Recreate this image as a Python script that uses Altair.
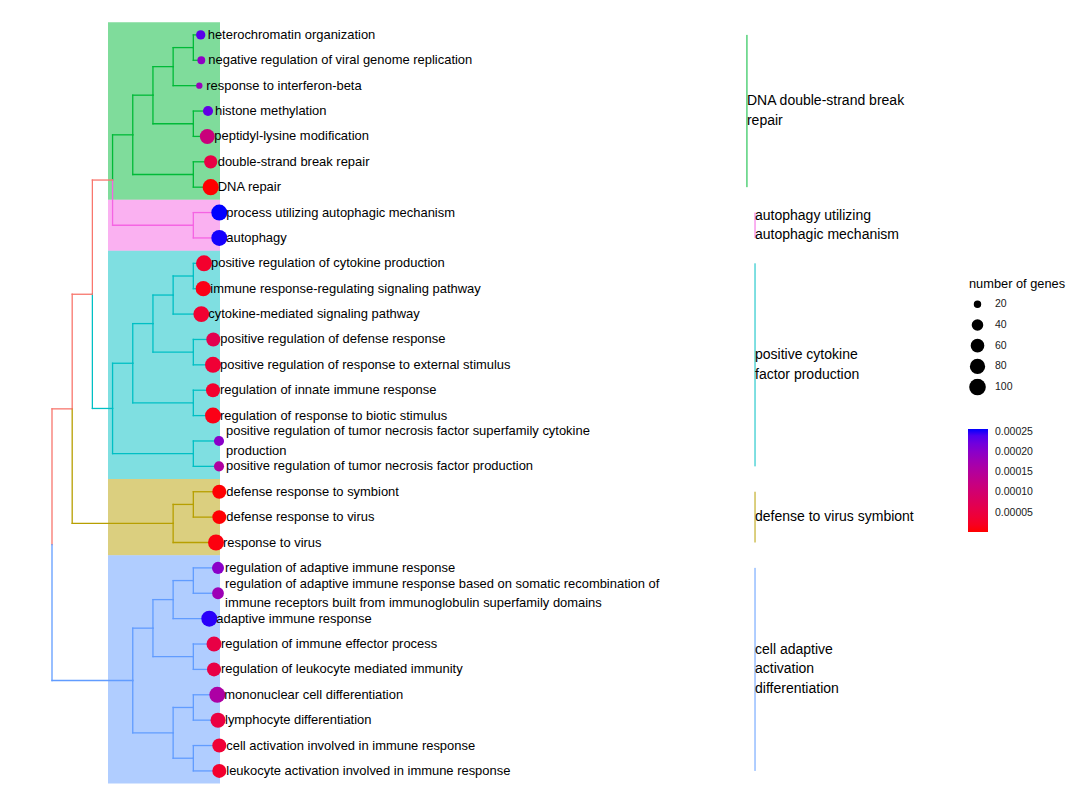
import altair as alt
import pandas as pd
import numpy as np

# ---------------- data ----------------
terms = [
    "heterochromatin organization",
    "negative regulation of viral genome replication",
    "response to interferon-beta",
    "histone methylation",
    "peptidyl-lysine modification",
    "double-strand break repair",
    "DNA repair",
    "process utilizing autophagic mechanism",
    "autophagy",
    "positive regulation of cytokine production",
    "immune response-regulating signaling pathway",
    "cytokine-mediated signaling pathway",
    "positive regulation of defense response",
    "positive regulation of response to external stimulus",
    "regulation of innate immune response",
    "regulation of response to biotic stimulus",
    "positive regulation of tumor necrosis factor superfamily cytokine\nproduction",
    "positive regulation of tumor necrosis factor production",
    "defense response to symbiont",
    "defense response to virus",
    "response to virus",
    "regulation of adaptive immune response",
    "regulation of adaptive immune response based on somatic recombination of\nimmune receptors built from immunoglobulin superfamily domains",
    "adaptive immune response",
    "regulation of immune effector process",
    "regulation of leukocyte mediated immunity",
    "mononuclear cell differentiation",
    "lymphocyte differentiation",
    "cell activation involved in immune response",
    "leukocyte activation involved in immune response",
]
gene_counts = [26, 21, 19, 30, 76, 56, 92, 90, 90, 90, 80, 88, 64, 90, 64,
               90, 30, 30, 64, 63, 90, 44, 42, 90, 76, 64, 90, 76, 64, 64]
p_adjust = [2.35e-4, 1.95e-4, 1.85e-4, 2.30e-4, 1.15e-4, 5.5e-5, 1.9e-6,
            2.567e-4, 2.55e-4, 3.0e-5, 1.2e-5, 3.5e-5, 6.5e-5, 3.8e-5, 3.0e-5,
            1.2e-5, 2.0e-4, 1.55e-4, 3.0e-6, 3.0e-6, 8.0e-6, 2.0e-4, 1.8e-4,
            2.52e-4, 5.5e-5, 5.5e-5, 1.6e-4, 5.0e-5, 3.8e-5, 3.0e-5]
# tip depth (tree units) of each leaf
tip_depth = [7.365, 7.395, 7.296, 7.727, 7.692, 7.860, 7.860, 8.286, 8.286,
             7.528, 7.494, 7.395, 7.989, 7.974, 7.974, 7.974, 8.271, 8.271,
             8.286, 8.286, 8.123, 8.222, 8.222, 7.791, 8.024, 8.024, 8.187,
             8.222, 8.286, 8.286]

# internal nodes: (name, children, depth) -- bottom-up
tree_nodes = [
    ("g1", ["L1", "L2"], 7), ("g2", ["g1", "L3"], 6), ("g3", ["L4", "L5"], 7),
    ("g4", ["g2", "g3"], 5), ("g5", ["L6", "L7"], 7), ("g6", ["g4", "g5"], 4),
    ("p1", ["L8", "L9"], 7), ("gp", ["g6", "p1"], 3),
    ("c1", ["L10", "L11"], 7), ("c2", ["c1", "L12"], 6), ("c3", ["L13", "L14"], 7),
    ("c4", ["c2", "c3"], 5), ("c5", ["L15", "L16"], 7), ("c6", ["c4", "c5"], 4),
    ("c7", ["L17", "L18"], 7), ("c8", ["c6", "c7"], 3),
    ("A", ["gp", "c8"], 2),
    ("o1", ["L19", "L20"], 7), ("o2", ["o1", "L21"], 6),
    ("B", ["A", "o2"], 1),
    ("b1", ["L22", "L23"], 7), ("b2", ["b1", "L24"], 6), ("b3", ["L25", "L26"], 7),
    ("b4", ["b2", "b3"], 5), ("b5", ["L27", "L28"], 7), ("b6", ["L29", "L30"], 7),
    ("b7", ["b5", "b6"], 6), ("b8", ["b4", "b7"], 4),
    ("root", ["B", "b8"], 0),
]

cluster_labels = ["DNA double-strand break\nrepair",
                  "autophagy utilizing\nautophagic mechanism",
                  "positive cytokine\nfactor production",
                  "defense to virus symbiont",
                  "cell adaptive\nactivation\ndifferentiation"]
cluster_first = [1, 8, 10, 19, 22]
cluster_last = [7, 9, 18, 21, 30]
cluster_colors = ["#00BA38", "#F564E3", "#00BFC4", "#B79F00", "#619CFF"]
cluster_label_depth = [34.42, 34.82, 34.82, 34.82, 34.82]
other_color = "#F8766D"
hilight_from, hilight_to = 2.774, 8.321

# ---------------- layout ----------------
W, H = 1060, 785
X0_PX, DX_PX = 44.0, 20.19
Y0_PX, DY_PX = 26.9, 25.38
LINE_H = 19.5
x_dom = [(0 - X0_PX) / DX_PX, (W - X0_PX) / DX_PX]
y_dom = [1 + (0 - Y0_PX) / DY_PX, 1 + (H - Y0_PX) / DY_PX]
xs = alt.Scale(domain=x_dom, range=[0, W], nice=False, zero=False)
ys = alt.Scale(domain=y_dom, range=[0, H], nice=False, zero=False)
FONT = "Liberation Sans"


def centre_shift(label):
    # shift so that a multi-line label is centred on its anchor
    n = label.count("\n") + 1
    return -(n - 1) / 2.0 * LINE_H / DY_PX


# ---------------- tree geometry ----------------
pos = {}
leaves = {}
for i in range(len(terms)):
    pos[f"L{i+1}"] = (tip_depth[i], i + 1)
    leaves[f"L{i+1}"] = {i + 1}
for name, ch, d in tree_nodes:
    pos[name] = (d, float(np.mean([pos[c][1] for c in ch])))
    leaves[name] = set().union(*[leaves[c] for c in ch])


def edge_color(node):
    ls = leaves[node]
    for k in range(len(cluster_labels)):
        if ls <= set(range(cluster_first[k], cluster_last[k] + 1)):
            return cluster_colors[k]
    return other_color


edges = []
for name, ch, d in tree_nodes:
    px, py = pos[name]
    for c in ch:
        cx, cy = pos[c]
        col = edge_color(c)
        edges.append(dict(x=px, x2=px, y=py, y2=cy, col=col))
        edges.append(dict(x=px, x2=cx, y=cy, y2=cy, col=col))
edges_df = pd.DataFrame(edges)

leaf_df = pd.DataFrame({
    "x": tip_depth, "y": list(range(1, len(terms) + 1)), "term": terms,
    "count": gene_counts, "padj": p_adjust,
})
leaf_df["ty"] = leaf_df["y"] + leaf_df["term"].map(centre_shift)

clus_df = pd.DataFrame({
    "label": cluster_labels, "first": cluster_first, "last": cluster_last,
    "col": cluster_colors, "lx": cluster_label_depth,
})
clus_df["mid"] = (clus_df["first"] + clus_df["last"]) / 2 + clus_df["label"].map(centre_shift)
clus_df["top"] = clus_df["first"] - 0.5
clus_df["bot"] = clus_df["last"] + 0.5
clus_df["hx"] = hilight_from
clus_df["hx2"] = hilight_to

# size scale (area = diameter^2), ggplot-like sqrt area palette
size_pts = [19, 20, 22, 25, 30, 35, 40, 50, 60, 70, 80, 90, 100, 104]
size_rng = [(6.3 + 10.6 * np.sqrt((v - 19) / 85.0)) ** 2 for v in size_pts]

# ---------------- layers ----------------
rects = alt.Chart(clus_df).mark_rect(opacity=0.5).encode(
    x=alt.X("hx:Q", scale=xs, axis=None), x2="hx2:Q",
    y=alt.Y("top:Q", scale=ys, axis=None), y2="bot:Q",
    fill=alt.Fill("col:N", scale=None),
)

branches = alt.Chart(edges_df).mark_rule(strokeWidth=1.3, strokeCap="square").encode(
    x=alt.X("x:Q", scale=xs, axis=None), x2="x2:Q",
    y=alt.Y("y:Q", scale=ys, axis=None), y2="y2:Q",
    stroke=alt.Stroke("col:N", scale=None),
)

clus_rules = alt.Chart(clus_df).mark_rule(strokeWidth=1).encode(
    x=alt.X("lx:Q", scale=xs, axis=None),
    y=alt.Y("first:Q", scale=ys, axis=None), y2="last:Q",
    stroke=alt.Stroke("col:N", scale=None),
)

dots = alt.Chart(leaf_df).mark_circle(opacity=1).encode(
    x=alt.X("x:Q", scale=xs, axis=None),
    y=alt.Y("y:Q", scale=ys, axis=None),
    size=alt.Size("count:Q",
                  scale=alt.Scale(domain=size_pts, range=size_rng, zero=False, nice=False),
                  legend=alt.Legend(title="number of genes", values=[20, 40, 60, 80, 100],
                                    orient="none", legendX=961, legendY=270,
                                    symbolFillColor="black", symbolStrokeWidth=0,
                                    symbolOpacity=1, symbolType="circle",
                                    titleFont=FONT, titleFontSize=12.8,
                                    titleFontWeight="normal", titleColor="black",
                                    labelFont=FONT, labelFontSize=10.5, labelColor="#1a1a1a",
                                    clipHeight=17, rowPadding=3.7, labelOffset=9,
                                    titlePadding=5)),
    color=alt.Color("padj:Q",
                    scale=alt.Scale(range=["#FF0000", "#0000FF"], interpolate="lab", zero=False),
                    legend=alt.Legend(title=None, orient="none", legendX=960, legendY=421,
                                      direction="vertical", gradientLength=103,
                                      gradientThickness=20, gradientStrokeWidth=0,
                                      values=[0.00005, 0.0001, 0.00015, 0.0002, 0.00025],
                                      format=".5f", labelFont=FONT, labelFontSize=10.5,
                                      labelColor="#1a1a1a", labelOffset=7,
                                      labelOverlap=False)),
)

leaf_text = alt.Chart(leaf_df).mark_text(
    align="left", baseline="middle", dx=7, font=FONT, fontSize=12.95,
    lineBreak="\n", lineHeight=LINE_H, color="black",
).encode(
    x=alt.X("x:Q", scale=xs, axis=None),
    y=alt.Y("ty:Q", scale=ys, axis=None),
    text="term:N",
)

clus_text = alt.Chart(clus_df).mark_text(
    align="left", baseline="middle", dx=0, font=FONT, fontSize=14,
    lineBreak="\n", lineHeight=LINE_H, color="black",
).encode(
    x=alt.X("lx:Q", scale=xs, axis=None),
    y=alt.Y("mid:Q", scale=ys, axis=None),
    text="label:N",
)

chart = alt.layer(rects, branches, clus_rules, dots, leaf_text, clus_text).properties(
    width=W, height=H, padding=0, autosize=alt.AutoSizeParams(type="none"),
).configure_view(stroke=None)

chart.save("out.html", embed_options={"renderer": "svg", "actions": False})
